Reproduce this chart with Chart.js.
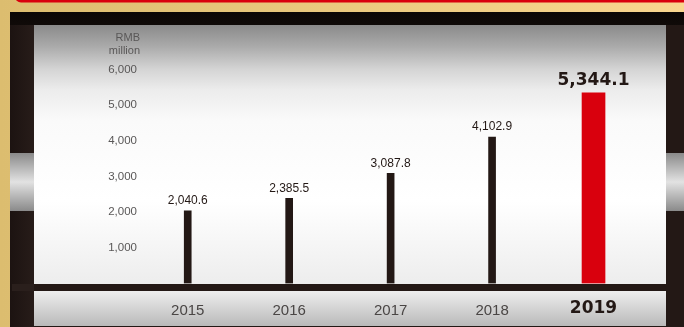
<!DOCTYPE html>
<html>
<head>
<meta charset="utf-8">
<script src="https://cdn.jsdelivr.net/npm/chart.js@4.4.1/dist/chart.umd.min.js"></script>
<style>
  html, body { margin: 0; padding: 0; background: #231815; }
  #wrap { width: 684px; height: 327px; }
</style>
</head>
<body>
<div id="wrap"><canvas id="myChart" width="684" height="327"></canvas></div>
<script>
// Net profit by year, RMB million
const years = ['2015', '2016', '2017', '2018', '2019'];
const profit = [2040.6, 2385.5, 3087.8, 4102.9, 5344.1];
const valueLabels = ['2,040.6', '2,385.5', '3,087.8', '4,102.9', '5,344.1'];
const yTickValues = [0, 1000, 2000, 3000, 4000, 5000, 6000];
const unitLines = ['RMB', 'million'];
const latest = years.length - 1;

const DARK = '#231815';
const RED = '#d9000d';

// frame, panel and strip behind the plot
const framePlugin = {
    id: 'frame',
    beforeDraw(chart) {
        const ctx = chart.ctx;
        const W = chart.width, H = chart.height;
        ctx.save();

        // gold surround
        let g = ctx.createLinearGradient(0, 0, W, 0);
        g.addColorStop(0, '#dcbd6f');
        g.addColorStop(1, '#f9d68f');
        ctx.fillStyle = g;
        ctx.fillRect(0, 0, W, H);

        // red header box peeking from the top
        ctx.fillStyle = RED;
        ctx.beginPath();
        ctx.roundRect(15, -20, W + 10, 22.5, 6);
        ctx.fill();

        // dark frame
        ctx.fillStyle = DARK;
        ctx.fillRect(10, 12, W - 10, H - 12);
        g = ctx.createLinearGradient(0, 12, 0, 30);
        g.addColorStop(0, '#0b0705');
        g.addColorStop(1, '#120c0a');
        ctx.fillStyle = g;
        ctx.fillRect(10, 12, W - 10, 13);
        g = ctx.createLinearGradient(10, 0, 34, 0);
        g.addColorStop(0, '#1c1311');
        g.addColorStop(1, '#271c19');
        ctx.fillStyle = g;
        ctx.fillRect(10, 25, 24, H - 25);

        // plot panel
        g = ctx.createLinearGradient(0, 25, 0, 284);
        g.addColorStop(0, '#8a8a8a');
        g.addColorStop(0.08, '#a9a9a9');
        g.addColorStop(0.17, '#d4d4d4');
        g.addColorStop(0.25, '#ececec');
        g.addColorStop(0.37, '#fafafa');
        g.addColorStop(0.68, '#ffffff');
        g.addColorStop(1, '#ededed');
        ctx.fillStyle = g;
        ctx.fillRect(34, 25, 632, 259);

        // category strip
        g = ctx.createLinearGradient(0, 291, 0, 326);
        g.addColorStop(0, '#eeeeee');
        g.addColorStop(1, '#b9b9b9');
        ctx.fillStyle = g;
        ctx.fillRect(34, 291, 632, 35);

        // metal side knobs
        g = ctx.createLinearGradient(0, 153, 0, 211);
        g.addColorStop(0, '#8a8a8a');
        g.addColorStop(0.5, '#e2e2e2');
        g.addColorStop(1, '#8a8a8a');
        ctx.fillStyle = g;
        ctx.fillRect(10, 153, 24, 58);
        ctx.fillRect(666, 153, 18, 58);

        // baseline band
        ctx.fillStyle = '#2a1f1c';
        ctx.fillRect(12, 284, 22, 7);
        ctx.fillStyle = DARK;
        ctx.fillRect(34, 284, 632, 7);
        ctx.restore();
    },
    afterDraw(chart) {
        const ctx = chart.ctx;
        const x = chart.chartArea.left + 3;
        ctx.save();
        ctx.fillStyle = '#595757';
        ctx.font = '11px "Liberation Sans", Arial, sans-serif';
        ctx.textAlign = 'right';
        ctx.textBaseline = 'middle';
        ctx.fillText(unitLines[0], x, 38);
        ctx.fillText(unitLines[1], x, 51);
        ctx.restore();
    }
};

// value written above each bar
const valueLabelPlugin = {
    id: 'valueLabels',
    afterDatasetsDraw(chart) {
        const ctx = chart.ctx;
        ctx.save();
        ctx.textAlign = 'center';
        ctx.textBaseline = 'middle';
        ctx.fillStyle = DARK;
        chart.data.datasets.forEach((ds, di) => {
            const meta = chart.getDatasetMeta(di);
            meta.data.forEach((bar, i) => {
                if (ds.data[i] == null) return;
                if (i === latest) {
                    ctx.font = 'bold 17px "DejaVu Sans", sans-serif';
                    ctx.fillText(valueLabels[i], bar.x, bar.y - 12);
                } else {
                    ctx.font = '12px "Liberation Sans", Arial, sans-serif';
                    ctx.fillText(valueLabels[i], bar.x, bar.y - 10);
                }
            });
        });
        ctx.restore();
    }
};

function initChart() {
    const data = {
        labels: years,
        datasets: [{
            label: 'Earlier years',
            data: profit.map((v, i) => (i === latest ? null : v)),
            backgroundColor: DARK,
            barThickness: 7,
            grouped: false
        }, {
            label: 'Latest year',
            data: profit.map((v, i) => (i === latest ? v : null)),
            backgroundColor: RED,
            barThickness: 23,
            grouped: false
        }]
    };

    const config = {
        type: 'bar',
        data: data,
        options: {
            responsive: false,
            animation: false,
            devicePixelRatio: 1,
            layout: { padding: { top: 69.5, right: 39.75, left: 0, bottom: 0 } },
            plugins: {
                legend: { display: false },
                tooltip: { enabled: false }
            },
            scales: {
                x: {
                    grid: { display: false, drawTicks: false },
                    border: { display: false },
                    ticks: {
                        padding: 18,
                        font: (c) => c.index === latest
                            ? { family: '"DejaVu Sans", sans-serif', size: 17, weight: 'bold', lineHeight: 0.8 }
                            : { family: '"Liberation Sans", Arial, sans-serif', size: 15, lineHeight: 1.2 },
                        color: (c) => (c.index === latest ? DARK : '#4a4645')
                    },
                    afterFit: (s) => { s.height = 43.5; }
                },
                y: {
                    min: yTickValues[0],
                    max: yTickValues[yTickValues.length - 1],
                    afterBuildTicks: (s) => { s.ticks = yTickValues.map(v => ({ value: v })); },
                    grid: { display: false, drawTicks: false },
                    border: { display: false },
                    ticks: {
                        padding: 0,
                        color: '#595757',
                        font: { family: '"Liberation Sans", Arial, sans-serif', size: 11.5 },
                        callback: (v) => (v === 0 ? '' : v.toLocaleString('en-US'))
                    },
                    afterFit: (s) => { s.width = 137; }
                }
            }
        },
        plugins: [framePlugin, valueLabelPlugin]
    };
    new Chart(document.getElementById('myChart'), config);
}

document.addEventListener('DOMContentLoaded', function () {
    initChart();
});
</script>
</body>
</html>
